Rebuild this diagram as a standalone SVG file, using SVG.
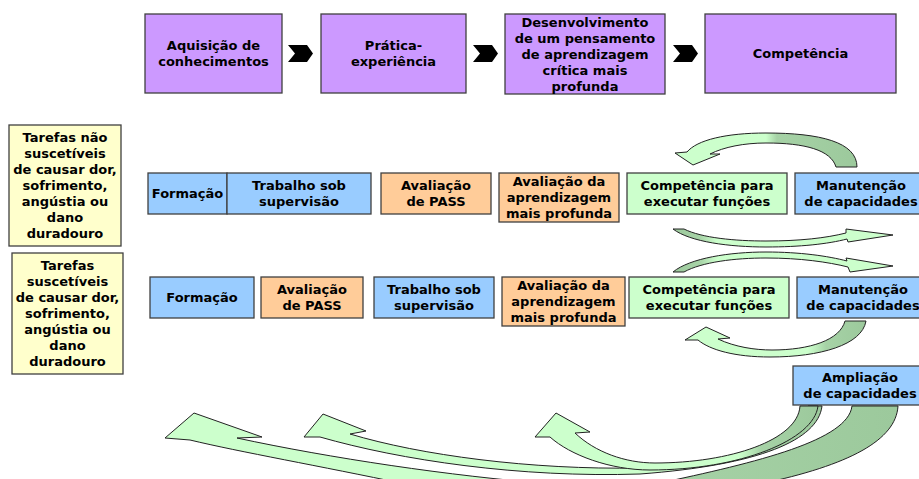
<svg xmlns="http://www.w3.org/2000/svg" width="919" height="479" viewBox="0 0 919 479">
<defs>
<style>
.box{stroke:#404040;stroke-width:1.3}
.pu{fill:#CC99FF}.ye{fill:#FFFFCC}.bl{fill:#99CCFF}.or{fill:#FFCC99}.gr{fill:#CCFFCC}
text{font-family:"DejaVu Sans","Verdana",sans-serif;font-weight:bold;font-size:13px;fill:#000;text-anchor:middle}
.chev{fill:#000}
.carr{stroke:#222;stroke-width:1;stroke-linejoin:round}
</style>
<linearGradient id="gTop" gradientUnits="userSpaceOnUse" x1="675" y1="0" x2="857" y2="0">
<stop offset="0" stop-color="#CCFFCC"/><stop offset="0.5" stop-color="#CCFFCC"/><stop offset="0.56" stop-color="#A6D2A6"/><stop offset="1" stop-color="#9CC99C"/>
</linearGradient>
<linearGradient id="gMid" gradientUnits="userSpaceOnUse" x1="673" y1="0" x2="893" y2="0">
<stop offset="0" stop-color="#9CC99C"/><stop offset="0.12" stop-color="#A6D2A6"/><stop offset="0.2" stop-color="#CCFFCC"/><stop offset="1" stop-color="#CCFFCC"/>
</linearGradient>
<linearGradient id="gLow" gradientUnits="userSpaceOnUse" x1="685" y1="0" x2="866" y2="0">
<stop offset="0" stop-color="#CCFFCC"/><stop offset="0.68" stop-color="#CCFFCC"/><stop offset="0.78" stop-color="#A6D2A6"/><stop offset="1" stop-color="#9CC99C"/>
</linearGradient>
<linearGradient id="gB1" gradientUnits="userSpaceOnUse" x1="165" y1="0" x2="898" y2="0">
<stop offset="0" stop-color="#CCFFCC"/><stop offset="0.64" stop-color="#CCFFCC"/><stop offset="0.67" stop-color="#A6D2A6"/><stop offset="1" stop-color="#9CC99C"/>
</linearGradient>
<linearGradient id="gB2" gradientUnits="userSpaceOnUse" x1="304" y1="0" x2="822" y2="0">
<stop offset="0" stop-color="#CCFFCC"/><stop offset="0.8" stop-color="#CCFFCC"/><stop offset="0.85" stop-color="#A6D2A6"/><stop offset="1" stop-color="#9CC99C"/>
</linearGradient>
<linearGradient id="gB3" gradientUnits="userSpaceOnUse" x1="535" y1="0" x2="818" y2="0">
<stop offset="0" stop-color="#CCFFCC"/><stop offset="0.72" stop-color="#CCFFCC"/><stop offset="0.8" stop-color="#A6D2A6"/><stop offset="1" stop-color="#9CC99C"/>
</linearGradient>
</defs>
<rect width="919" height="479" fill="#FFFFFF"/>

<g id="top-aquisicao"><rect class="box pu" x="145" y="14" width="137" height="79"/><text x="213.5" y="50">Aquisição de</text><text x="213.5" y="66">conhecimentos</text></g>
<g id="top-pratica"><rect class="box pu" x="321" y="14" width="145" height="79"/><text x="393.5" y="50">Prática-</text><text x="393.5" y="66">experiência</text></g>
<g id="top-desenvolvimento"><rect class="box pu" x="505" y="14" width="160" height="80"/><text x="585" y="27">Desenvolvimento</text><text x="585" y="43">de um pensamento</text><text x="585" y="59">de aprendizagem</text><text x="585" y="75">crítica mais</text><text x="585" y="91">profunda</text></g>
<g id="top-competencia"><rect class="box pu" x="705" y="14" width="191" height="79"/><text x="800.5" y="58">Competência</text></g>

<g id="tarefas-nao"><rect class="box ye" x="9" y="125" width="112" height="121"/>
<text x="65" y="142">Tarefas não</text><text x="65" y="158">suscetíveis</text><text x="65" y="174">de causar dor,</text><text x="65" y="190">sofrimento,</text><text x="65" y="206">angústia ou</text><text x="65" y="222">dano</text><text x="65" y="238">duradouro</text></g>
<g id="tarefas-sim"><rect class="box ye" x="12" y="253" width="111" height="121"/>
<text x="67.5" y="270">Tarefas</text><text x="67.5" y="286">suscetíveis</text><text x="67.5" y="302">de causar dor,</text><text x="67.5" y="318">sofrimento,</text><text x="67.5" y="334">angústia ou</text><text x="67.5" y="350">dano</text><text x="67.5" y="366">duradouro</text></g>

<g id="r1-formacao"><rect class="box bl" x="148" y="173" width="79" height="41"/><text x="187.5" y="198">Formação</text></g>
<g id="r1-trabalho"><rect class="box bl" x="227" y="173" width="144" height="41"/><text x="299" y="190">Trabalho sob</text><text x="299" y="206">supervisão</text></g>
<g id="r1-pass"><rect class="box or" x="381" y="173" width="110" height="41"/><text x="436" y="190">Avaliação</text><text x="436" y="206">de PASS</text></g>
<g id="r1-aval"><rect class="box or" x="499" y="173" width="120" height="49"/><text x="559" y="186">Avaliação da</text><text x="559" y="202">aprendizagem</text><text x="559" y="218">mais profunda</text></g>
<g id="r1-competencia"><rect class="box gr" x="627" y="173" width="160" height="41"/><text x="707" y="190">Competência para</text><text x="707" y="206">executar funções</text></g>
<g id="r1-manutencao"><rect class="box bl" x="795" y="173" width="132" height="41"/><text x="861" y="190">Manutenção</text><text x="861" y="206">de capacidades</text></g>

<g id="r2-formacao"><rect class="box bl" x="150" y="277" width="104" height="41"/><text x="202" y="302">Formação</text></g>
<g id="r2-pass"><rect class="box or" x="261" y="277" width="102" height="41"/><text x="312" y="294">Avaliação</text><text x="312" y="310">de PASS</text></g>
<g id="r2-trabalho"><rect class="box bl" x="374" y="277" width="120" height="41"/><text x="434" y="294">Trabalho sob</text><text x="434" y="310">supervisão</text></g>
<g id="r2-aval"><rect class="box or" x="502" y="277" width="123" height="49"/><text x="563.5" y="290">Avaliação da</text><text x="563.5" y="306">aprendizagem</text><text x="563.5" y="322">mais profunda</text></g>
<g id="r2-competencia"><rect class="box gr" x="629" y="277" width="160" height="41"/><text x="709" y="294">Competência para</text><text x="709" y="310">executar funções</text></g>
<g id="r2-manutencao"><rect class="box bl" x="797" y="277" width="132" height="41"/><text x="863" y="294">Manutenção</text><text x="863" y="310">de capacidades</text></g>

<g id="ampliacao"><rect class="box bl" x="793" y="366" width="132" height="39"/><text x="860" y="382">Ampliação</text><text x="860" y="398">de capacidades</text></g>

<g id="connectors">
<polygon class="chev" points="288,45 307,45 313,53.5 307,62 288,62 295,53.5"/>
<polygon class="chev" points="473,45 492,45 498,53.5 492,62 473,62 480,53.5"/>
<polygon class="chev" points="673,45 692,45 698,53.5 692,62 673,62 680,53.5"/>

<path class="carr" fill="url(#gTop)" d="M857,167 C857,142 820,133 766,133 C726,133 697,140 687,152 L675,153 L693,165 L720,154 L710,154 C724,147 744,143 766,143 C805,143 831,150 836,167 Z"/>
<path class="carr" fill="url(#gMid)" d="M673,229 C690,242 730,247 766,247 C800,247 828,244 847,239 L848,242 L893,235 L846,229 L846,233 C826,238 800,241 766,241 C735,241 702,238 684,229 Z"/>
<path class="carr" fill="url(#gMid)" d="M673,272 C690,258 730,252 766,252 C800,252 828,256 847,261 L846,258 L893,266 L850,272 L848,267 C828,262 800,258 766,258 C735,258 702,262 684,272 Z"/>
<path class="carr" fill="url(#gLow)" d="M866,321 C862,345 820,357 770,357 C735,357 710,350 698,340 L685,340 L706,327 L730,338 L718,339 C735,347 755,350 772,350 C810,350 840,340 845,321 Z"/>

<path class="carr" fill="url(#gB1)" d="M898,406 C896,440 850,465 760,484 L600,505 L405,484 C320,466 240,452 190,440 L165,438 L194,413 L262,437 L237,438 C330,458 450,476 552,484 L600,492 L655,484 C760,462 848,440 852,406 Z"/>
<path class="carr" fill="url(#gB2)" d="M822,406 C818,440 760,465 640,474 C520,478 400,460 320,437 L304,437 L323,414 L366,431 L350,434 C420,455 530,470 640,468 C740,462 805,440 808,406 Z"/>
<path class="carr" fill="url(#gB3)" d="M818,406 C814,440 740,470 650,470 C610,470 570,455 550,437 L535,437 L556,413 L590,432 L575,433 C595,452 625,463 655,463 C730,463 798,440 800,406 Z"/>
</g>
</svg>
